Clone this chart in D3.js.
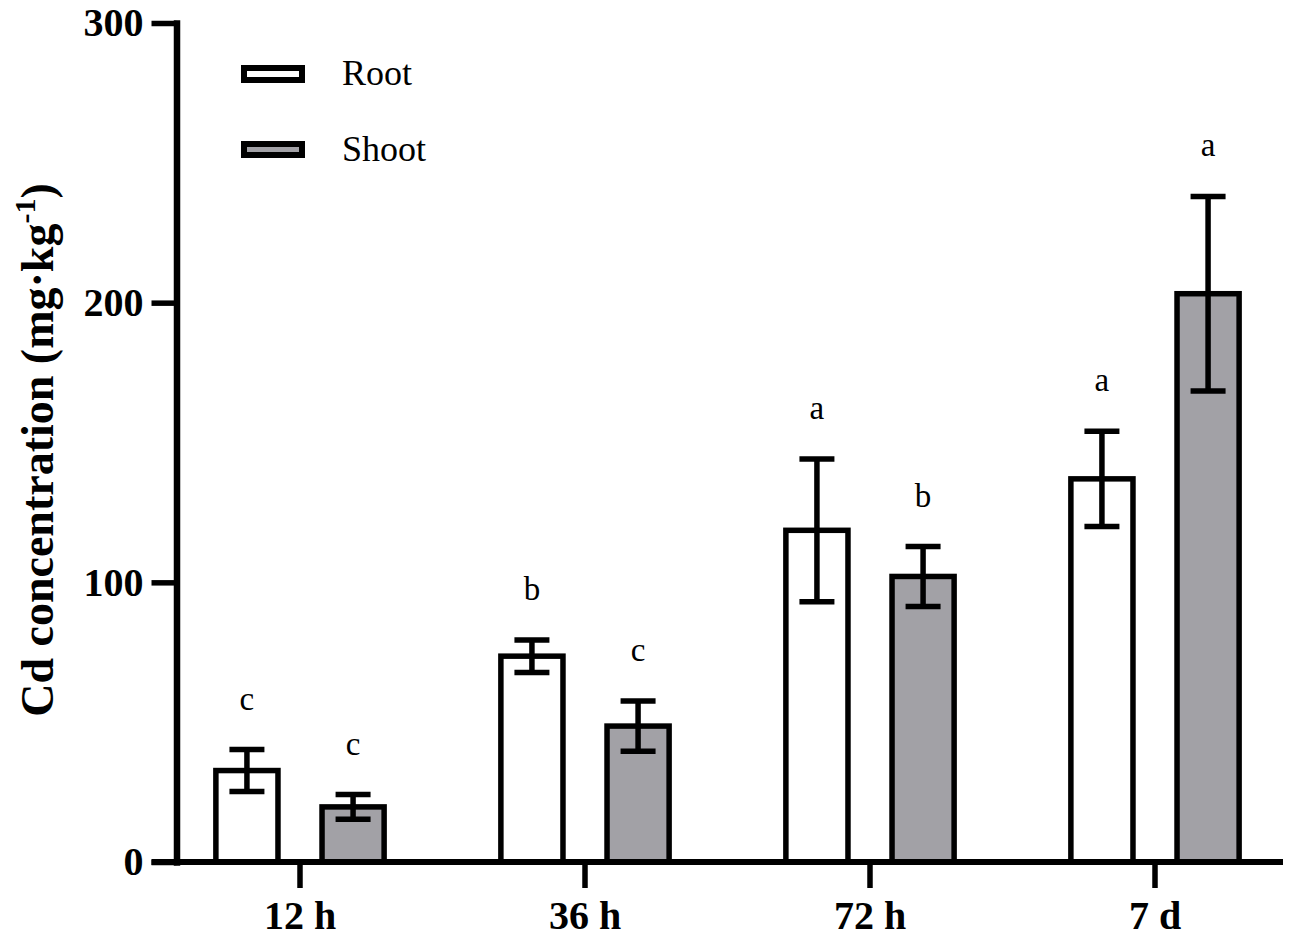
<!DOCTYPE html>
<html>
<head>
<meta charset="utf-8">
<script src="https://cdn.jsdelivr.net/npm/d3@7"></script>
<style>
  html, body { margin: 0; padding: 0; background: #fff; }
  svg { display: block; }
  svg text { font-family: "Liberation Serif", "Times New Roman", serif; }
</style>
</head>
<body>
<svg id="chart" width="1292" height="941"></svg>
<script>
// 数据
const groups = ["12 h", "36 h", "72 h", "7 d"];
const series = ["Root", "Shoot"];
const rootMean = [32.7, 73.6, 118.6, 137.0];
const rootErr = [7.5, 5.8, 25.5, 17.0];
const shootMean = [19.7, 48.6, 102.1, 203.2];
const shootErr = [4.4, 9.0, 10.7, 34.8];
const rootLetters = ["c", "b", "a", "a"];
const shootLetters = ["c", "c", "b", "a"];
const yTicks = [0, 100, 200, 300];

const fills = { Root: "#ffffff", Shoot: "#a2a1a6" };

// 合并成绘图用的表
const rows = [];
groups.forEach((g, i) => {
    rows.push({ group: g, series: "Root", mean: rootMean[i], err: rootErr[i], letter: rootLetters[i] });
    rows.push({ group: g, series: "Shoot", mean: shootMean[i], err: shootErr[i], letter: shootLetters[i] });
});

const svg = d3.select("#chart");
const axisX = 176.5;

// 比例尺
const y = d3.scaleLinear().domain([0, 300]).range([862, 23]);
const x0 = d3.scaleBand().domain(groups).range([157.5, 1297.5]);
const x1 = d3.scaleBand().domain(series).range([0, x0.bandwidth()])
    .paddingInner(0.415).paddingOuter(0.55);

// 柱子
const bars = svg.append("g");
bars.selectAll("rect")
    .data(rows)
    .enter()
    .append("rect")
    .attr("x", d => x0(d.group) + x1(d.series))
    .attr("y", d => y(d.mean))
    .attr("width", x1.bandwidth())
    .attr("height", d => y(0) - y(d.mean))
    .attr("fill", d => fills[d.series])
    .attr("stroke", "#000")
    .attr("stroke-width", 5.5);

// 误差线
const capW = 35;
const err = svg.append("g").attr("stroke", "#000").attr("stroke-width", 5.5);
rows.forEach(d => {
    const cx = x0(d.group) + x1(d.series) + x1.bandwidth() / 2;
    err.append("line")
        .attr("x1", cx).attr("x2", cx)
        .attr("y1", y(d.mean + d.err)).attr("y2", y(d.mean - d.err));
    [d.mean + d.err, d.mean - d.err].forEach(v => {
        err.append("line")
            .attr("x1", cx - capW / 2).attr("x2", cx + capW / 2)
            .attr("y1", y(v)).attr("y2", y(v));
    });
});

// 显著性字母
svg.append("g").selectAll("text")
    .data(rows)
    .enter()
    .append("text")
    .attr("x", d => x0(d.group) + x1(d.series) + x1.bandwidth() / 2)
    .attr("y", d => y(d.mean + d.err) - 40)
    .attr("text-anchor", "middle")
    .attr("font-size", "33px")
    .attr("fill", "#000")
    .text(d => d.letter);

// Y 轴
const yAxis = svg.append("g")
    .attr("transform", `translate(${axisX},0)`)
    .call(d3.axisLeft(y).tickValues(yTicks).tickSize(25).tickSizeOuter(0).tickPadding(8));
yAxis.select(".domain").attr("stroke-width", 6.5).attr("stroke-linecap", "square");
yAxis.selectAll(".tick line").attr("stroke-width", 5.5);
yAxis.selectAll(".tick text")
    .attr("font-weight", "bold")
    .attr("font-size", "40px")
    .attr("fill", "#000");

// X 轴
const xAxis = svg.append("g")
    .attr("transform", "translate(0,862)")
    .call(d3.axisBottom(x0).tickSize(26).tickSizeOuter(0).tickPadding(13));
xAxis.select(".domain").remove();
xAxis.append("line")
    .attr("x1", axisX - 25).attr("x2", 1283)
    .attr("y1", 0).attr("y2", 0)
    .attr("stroke", "#000").attr("stroke-width", 6);
xAxis.selectAll(".tick line").attr("stroke-width", 5.5);
xAxis.selectAll(".tick text")
    .attr("font-weight", "bold")
    .attr("font-size", "40px")
    .attr("fill", "#000");

// Y 轴标题
const title = svg.append("text")
    .attr("transform", "translate(53,450) rotate(-90)")
    .attr("text-anchor", "middle")
    .attr("font-weight", "bold")
    .attr("font-size", "46px")
    .attr("fill", "#000");
title.append("tspan").text("Cd concentration (mg·kg");
title.append("tspan").attr("font-size", "30px").attr("dy", "-18").text("-1");
title.append("tspan").attr("dy", "18").text(")");

// 图例
const legend = svg.append("g").attr("transform", "translate(244,0)");
series.forEach((s, i) => {
    const row = legend.append("g").attr("transform", `translate(0,${68 + i * 76})`);
    row.append("rect")
        .attr("width", 58)
        .attr("height", i === 0 ? 12 : 11)
        .attr("fill", fills[s])
        .attr("stroke", "#000")
        .attr("stroke-width", 6);
    row.append("text")
        .attr("x", 98)
        .attr("y", 17)
        .attr("font-size", "36px")
        .attr("fill", "#000")
        .text(s);
});
</script>
</body>
</html>
